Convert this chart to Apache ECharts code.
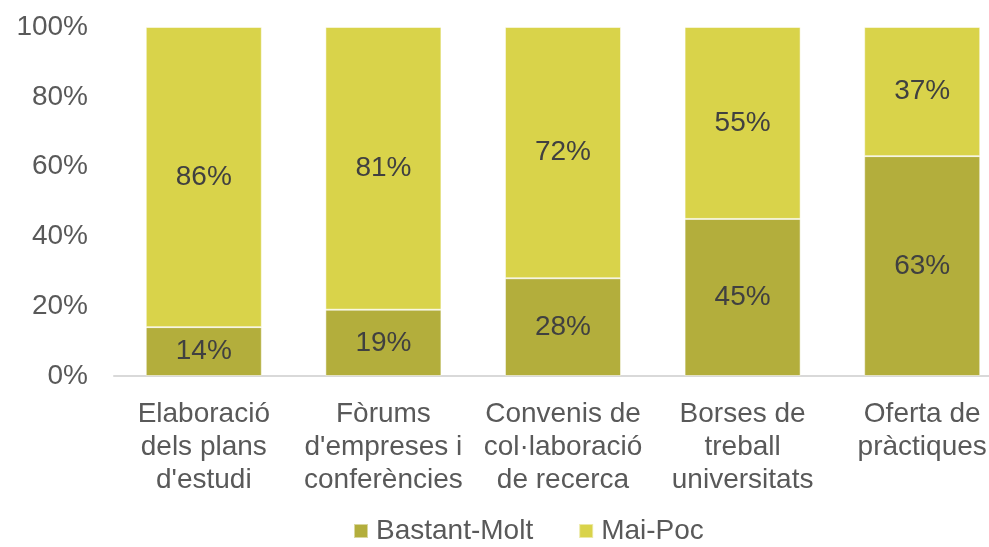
<!DOCTYPE html>
<html>
<head>
<meta charset="utf-8">
<script src="https://cdn.jsdelivr.net/npm/echarts@6/dist/echarts.min.js"></script>
<style>
html,body{margin:0;padding:0;background:#fff;}
#chart{width:989px;height:547px;}
</style>
</head>
<body>
<div id="chart"></div>
<script>
var categories = ["Elaboració\ndels plans\nd'estudi", "Fòrums\nd'empreses i\nconferències", "Convenis de\ncol·laboració\nde recerca", "Borses de\ntreball\nuniversitats", "Oferta de\npràctiques"];
var bastantMolt = [14, 19, 28, 45, 63];
var maiPoc = [86, 81, 72, 55, 37];
var seriesNames = ["Bastant-Molt", "Mai-Poc"];
var yTicks = [0, 20, 40, 60, 80, 100];

var font = "'Liberation Sans', Arial, sans-serif";
var chart = echarts.init(document.getElementById('chart'));
var labelCfg = {
  show: true, position: 'inside', formatter: '{c}%',
  color: '#404040', fontSize: 28, fontFamily: font
};
chart.setOption({
  animation: false,
  textStyle: { fontFamily: font },
  grid: { left: 114, width: 898, top: 27, height: 349, containLabel: false, outerBoundsMode: 'none' },
  legend: {
    top: 517, left: 353, padding: 0,
    itemWidth: 14, itemHeight: 14, itemGap: 45,
    icon: 'rect',
    textStyle: { color: '#595959', fontSize: 28, fontFamily: font, padding: [0, 0, 0, 3] },
    data: seriesNames
  },
  xAxis: {
    type: 'category', data: categories,
    axisLine: { show: true, lineStyle: { color: '#d9d9d9', width: 2 } },
    axisTick: { show: false },
    axisLabel: { color: '#595959', fontSize: 28, lineHeight: 33, margin: 22, interval: 0, fontFamily: font }
  },
  yAxis: {
    type: 'value', min: 0, max: 100, interval: 20,
    axisLabel: { formatter: '{value}%', color: '#595959', fontSize: 28, margin: 26, fontFamily: font },
    splitLine: { show: false },
    axisLine: { show: false }, axisTick: { show: false }
  },
  series: [
    {
      name: seriesNames[0], type: 'bar', stack: 'a', data: bastantMolt, barWidth: '64.6%',
      itemStyle: { color: '#b3ae3c', borderColor: 'rgba(255,255,255,0.5)', borderWidth: 1 },
      label: labelCfg
    },
    {
      name: seriesNames[1], type: 'bar', stack: 'a', data: maiPoc, barWidth: '64.6%',
      itemStyle: { color: '#d9d34a', borderColor: 'rgba(255,255,255,0.5)', borderWidth: 1 },
      label: labelCfg
    }
  ]
});
</script>
</body>
</html>
